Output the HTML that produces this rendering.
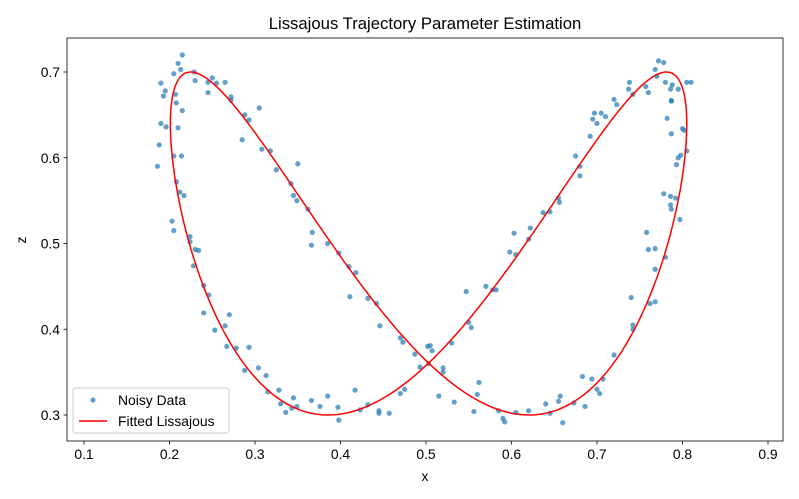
<!DOCTYPE html>
<html><head><meta charset="utf-8"><style>
body{margin:0;background:#fff;}
svg{display:block;font-family:"Liberation Sans","DejaVu Sans",sans-serif;}
</style></head><body>
<svg id="chart" width="799" height="499"></svg>
<script>
const xTicks=[0.1,0.2,0.3,0.4,0.5,0.6,0.7,0.8,0.9];
const yTicks=[0.3,0.4,0.5,0.6,0.7];
const fitParams={cx:0.503,ax:0.302,cz:0.5,az:0.2,phase:-2.37};
const dataX=[0.215,0.21,0.205,0.213,0.19,0.195,0.193,0.207,0.208,0.215,0.229,0.23,0.245,0.25,0.255,0.265,0.245,0.272,0.272,0.19,0.196,0.21,0.188,0.205,0.214,0.186,0.208,0.212,0.217,0.203,0.205,0.224,0.224,0.23,0.234,0.228,0.24,0.246,0.24,0.253,0.265,0.27,0.267,0.278,0.293,0.288,0.304,0.313,0.315,0.328,0.33,0.336,0.343,0.345,0.349,0.366,0.376,0.385,0.397,0.398,0.417,0.423,0.432,0.445,0.445,0.457,0.47,0.475,0.285,0.293,0.288,0.305,0.308,0.318,0.325,0.342,0.345,0.349,0.35,0.362,0.367,0.366,0.385,0.398,0.41,0.418,0.411,0.432,0.442,0.446,0.47,0.473,0.487,0.493,0.502,0.505,0.507,0.503,0.52,0.52,0.515,0.53,0.533,0.547,0.55,0.553,0.56,0.562,0.556,0.57,0.578,0.582,0.585,0.59,0.592,0.598,0.605,0.603,0.605,0.62,0.622,0.62,0.637,0.64,0.645,0.645,0.655,0.656,0.655,0.657,0.66,0.673,0.675,0.68,0.68,0.683,0.686,0.692,0.695,0.697,0.7,0.705,0.694,0.7,0.703,0.707,0.71,0.72,0.723,0.72,0.738,0.737,0.742,0.74,0.742,0.742,0.757,0.76,0.758,0.76,0.762,0.768,0.772,0.77,0.778,0.78,0.788,0.786,0.787,0.787,0.795,0.768,0.768,0.768,0.778,0.782,0.78,0.786,0.786,0.787,0.787,0.795,0.798,0.8,0.802,0.793,0.797,0.805,0.81,0.805,0.792];
const dataZ=[0.72,0.71,0.698,0.703,0.687,0.678,0.672,0.674,0.664,0.655,0.70,0.69,0.688,0.693,0.687,0.688,0.676,0.671,0.667,0.64,0.636,0.635,0.615,0.602,0.602,0.59,0.572,0.56,0.556,0.526,0.515,0.508,0.502,0.493,0.492,0.474,0.451,0.44,0.419,0.399,0.404,0.417,0.38,0.378,0.379,0.352,0.355,0.346,0.327,0.329,0.313,0.303,0.308,0.32,0.31,0.317,0.31,0.322,0.309,0.294,0.329,0.306,0.312,0.305,0.302,0.302,0.325,0.33,0.621,0.644,0.65,0.658,0.61,0.608,0.586,0.57,0.556,0.55,0.593,0.54,0.513,0.498,0.5,0.489,0.473,0.466,0.438,0.436,0.43,0.404,0.39,0.385,0.371,0.356,0.38,0.381,0.375,0.36,0.355,0.35,0.322,0.384,0.315,0.444,0.408,0.402,0.324,0.338,0.304,0.45,0.446,0.446,0.305,0.296,0.292,0.49,0.487,0.512,0.303,0.505,0.518,0.305,0.536,0.313,0.537,0.302,0.553,0.548,0.316,0.322,0.291,0.314,0.602,0.59,0.579,0.345,0.31,0.625,0.645,0.652,0.64,0.652,0.342,0.33,0.325,0.342,0.648,0.668,0.662,0.37,0.688,0.68,0.674,0.437,0.405,0.4,0.683,0.676,0.513,0.493,0.43,0.703,0.713,0.695,0.711,0.688,0.685,0.68,0.667,0.666,0.68,0.47,0.494,0.432,0.558,0.646,0.484,0.555,0.545,0.54,0.628,0.6,0.603,0.634,0.632,0.592,0.528,0.688,0.688,0.608,0.553];

const svg=document.getElementById('chart');
const NS='http://www.w3.org/2000/svg';
const L=67,R=783,T=38,B=441;
const sx=v=>84+(v-0.1)*855;
const sy=v=>72+(0.7-v)*857.5;
function mk(tag,attrs,parent){const e=document.createElementNS(NS,tag);for(const k in attrs)e.setAttribute(k,attrs[k]);(parent||svg).appendChild(e);return e;}

const title=mk('text',{x:425,y:29,'text-anchor':'middle','font-size':16.7,fill:'#000'});


title.textContent='Lissajous Trajectory Parameter Estimation';

const pts=mk('g',{});


for(let i=0;i<dataX.length;i++){
  const c=mk('circle',{cx:sx(dataX[i]),cy:sy(dataZ[i]),r:2.6,fill:'#1f77b4','fill-opacity':0.7},pts);
  
  
}
let d='';
for(let k=0;k<=600;k++){const t=k/600*2*Math.PI;
  const x=fitParams.cx+fitParams.ax*Math.sin(t), z=fitParams.cz+fitParams.az*Math.sin(2*t+fitParams.phase);
  d+=(k?'L':'M')+sx(x).toFixed(1)+' '+sy(z).toFixed(1);}
const fit=mk('path',{d:d,fill:'none',stroke:'#ff0000','stroke-width':1.5});



const frame=mk('rect',{x:L,y:T,width:R-L,height:B-T,fill:'none',stroke:'#000','stroke-width':0.8});



xTicks.forEach(v=>{
  mk('line',{x1:sx(v),x2:sx(v),y1:B,y2:B+3.5,stroke:'#000','stroke-width':0.8});
  const t=mk('text',{x:sx(v),y:B+18,'text-anchor':'middle','font-size':13.9});
  
  
  t.textContent=v.toFixed(1);
});
yTicks.forEach(v=>{
  mk('line',{x1:L-3.5,x2:L,y1:sy(v),y2:sy(v),stroke:'#000','stroke-width':0.8});
  const t=mk('text',{x:L-7,y:sy(v)+5,'text-anchor':'end','font-size':13.9});
  
  
  t.textContent=v.toFixed(1);
});
const xl=mk('text',{x:425,y:481,'text-anchor':'middle','font-size':13.9});


xl.textContent='x';
const yl=mk('text',{x:26,y:240,'text-anchor':'middle','font-size':13.9,transform:'rotate(-90 26 240)'});


yl.textContent='z';

const lg=mk('g',{});


mk('rect',{x:73,y:388,width:156,height:45,rx:3,fill:'#fff','fill-opacity':0.8,stroke:'#ccc','stroke-width':1},lg);
mk('circle',{cx:93,cy:400,r:2.6,fill:'#1f77b4','fill-opacity':0.7},lg);
mk('line',{x1:79,x2:107,y1:421,y2:421,stroke:'#ff0000','stroke-width':1.5},lg);
const l1=mk('text',{x:118,y:405,'font-size':13.9},lg);


l1.textContent='Noisy Data';
const l2=mk('text',{x:118,y:426,'font-size':13.9},lg);


l2.textContent='Fitted Lissajous';
</script>
</body></html>
